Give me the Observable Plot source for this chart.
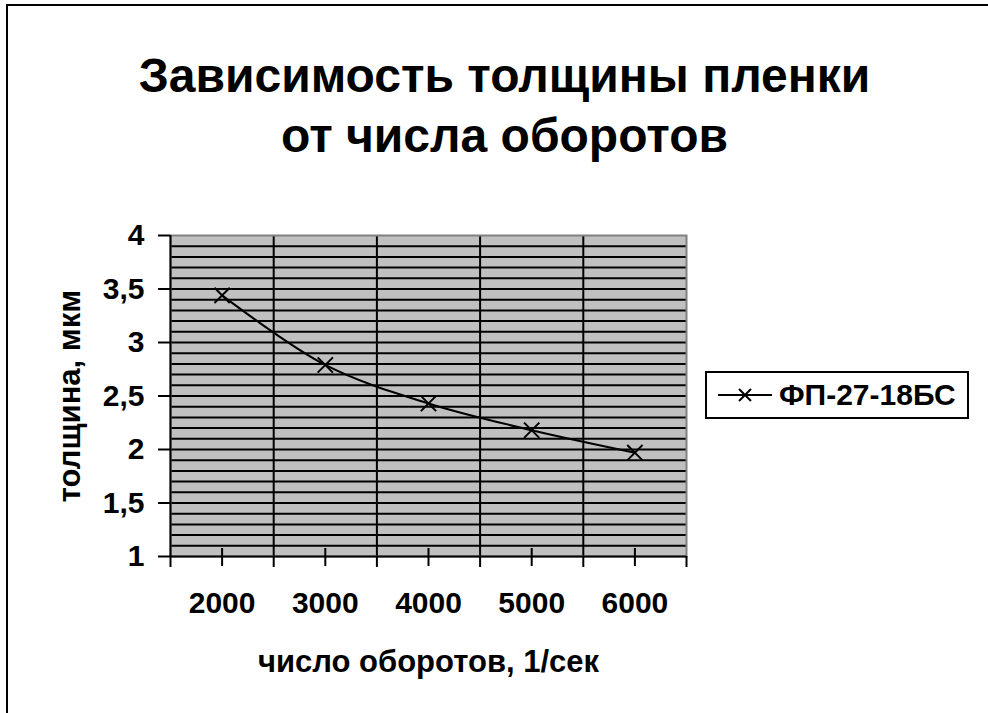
<!DOCTYPE html>
<html><head><meta charset="utf-8">
<script src="https://cdn.jsdelivr.net/npm/d3@7"></script>
<script src="https://cdn.jsdelivr.net/npm/@observablehq/plot@0.6"></script>
<style>
  html, body { margin: 0; padding: 0; background: #fff; }
  body { width: 988px; height: 713px; overflow: hidden; position: relative; font-family: "Liberation Sans", Arial, sans-serif; }
  #border { position: absolute; left: 6px; top: 4px; width: 1100px; height: 800px; border-left: 2px solid #000; border-top: 2px solid #000; }
  #chart { position: absolute; left: 0; top: 0; }
  #title { position: absolute; left: 0; width: 1009px; top: 46px; text-align: center; font-weight: bold; font-size: 48px; line-height: 60px; color: #000; }
  #legend { position: absolute; left: 705px; top: 371px; width: 260px; height: 44px; border: 2px solid #000; background: #fff; display: flex; align-items: center; }
  #legend svg { margin-left: 9px; }
  #legend span { font-weight: bold; font-size: 30px; margin-left: 5px; }
</style>
</head><body>
<div id="border"></div>
<div id="chart"></div>
<div id="title">Зависимость толщины пленки<br>от числа оборотов</div>
<div id="legend"><svg width="58" height="20" id="sw"></svg><span id="legtext"></span></div>
<script>
const categories = [2000, 3000, 4000, 5000, 6000];
const thickness = [3.44, 2.79, 2.43, 2.18, 1.97];
const yTicks = [1, 1.5, 2, 2.5, 3, 3.5, 4];
const seriesName = "ФП-27-18БС";
const xTitle = "число оборотов, 1/сек";
const yTitle = "толщина, мкм";

const step = 1000;
const bounds = [categories[0] - step / 2, ...categories.map(c => c + step / 2)];
const innerBounds = bounds.slice(1, -1);
const minorY = d3.range(11, 40).map(v => v / 10);
const data = categories.map((c, i) => ({x: c, y: thickness[i]}));

const plot = Plot.plot({
  width: 988, height: 713,
  marginLeft: 170, marginRight: 302, marginTop: 235, marginBottom: 157,
  style: {fontFamily: '"Liberation Sans", Arial, sans-serif', fontWeight: "bold", background: "transparent", color: "#000"},
  x: {domain: [bounds[0], bounds[bounds.length - 1]]},
  y: {domain: [1, 4]},
  marks: [
    Plot.frame({fill: "#c0c0c0"}),
    Plot.ruleY(minorY, {stroke: "#000", strokeWidth: 2}),
    Plot.ruleX(innerBounds, {stroke: "#000", strokeWidth: 2}),
    Plot.frame({stroke: "#808080", strokeWidth: 2}),
    Plot.ruleX([bounds[0]], {stroke: "#000", strokeWidth: 2}),
    Plot.ruleY([1], {stroke: "#000", strokeWidth: 2}),
    Plot.axisY(yTicks, {tickSize: 12, tickPadding: 14, fontSize: 30, fontWeight: "bold", strokeWidth: 2, tickFormat: d => String(d).replace(".", ","), label: null}),
    Plot.axisX(bounds, {tickSize: 11, strokeWidth: 2, tickFormat: () => "", label: null}),
    Plot.ruleX(categories, {y1: 1, y2: 1, insetTop: -8, insetBottom: -10, stroke: "#000", strokeWidth: 2}),
    Plot.axisX(categories, {tickSize: 0, tickPadding: 35, fontSize: 30, fontWeight: "bold", tickFormat: d => String(d), label: null}),
    Plot.text([xTitle], {frameAnchor: "bottom", dy: 106, lineAnchor: "middle", fontSize: 31, fontWeight: "bold", fill: "#000"}),
    Plot.text([yTitle], {frameAnchor: "left", dx: -100, rotate: -90, textAnchor: "middle", lineAnchor: "middle", fontSize: 31, fontWeight: "bold", fill: "#000"}),
    Plot.line(data, {x: "x", y: "y", curve: "catmull-rom", stroke: "#000", strokeWidth: 2}),
    Plot.dot(data, {x: "x", y: "y", symbol: "times", r: 7, stroke: "#000", strokeWidth: 2})
  ]
});
document.getElementById("chart").appendChild(plot);

// legend swatch
const sw = d3.select("#sw");
sw.append("line").attr("x1", 2).attr("x2", 56).attr("y1", 10).attr("y2", 10).attr("stroke", "#000").attr("stroke-width", 2);
sw.append("path").attr("d", "M23,4L35,16M35,4L23,16").attr("stroke", "#000").attr("stroke-width", 2);
document.getElementById("legtext").textContent = seriesName;
</script>
</body></html>
